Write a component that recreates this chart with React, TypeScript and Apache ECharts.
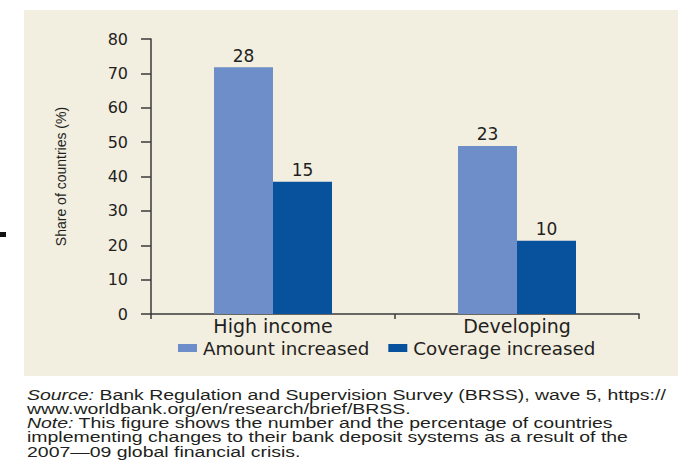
import React, { useEffect, useRef } from "react";
import * as echarts from "echarts";

const categories = ["High income", "Developing"];
const seriesNames = ["Amount increased", "Coverage increased"];
const amountPct = [71.8, 48.9];
const coveragePct = [38.5, 21.3];
const amountCount = [28, 23];
const coverageCount = [15, 10];
const yAxisTitle = "Share of countries (%)";
const footLines = [
  "{i|Source:} Bank Regulation and Supervision Survey (BRSS), wave 5, https://",
  "www.worldbank.org/en/research/brief/BRSS.",
  "{i|Note:} This figure shows the number and the percentage of countries",
  "implementing changes to their bank deposit systems as a result of the",
  "2007\u201409 global financial crisis.",
];

const TEXT = "#231f20";
const AXIS = "#3a3a3a";
const FONT = "'DejaVu Sans', Verdana, sans-serif";

export default function App() {
  const ref = useRef<HTMLDivElement>(null);
  useEffect(() => {
    if (!ref.current) return;
    const chart = echarts.init(ref.current, null, { renderer: "svg" });
    const footY = [395, 409.3, 423.5, 437.8, 452];
    chart.setOption({
      animation: false,
      backgroundColor: "#ffffff",
      graphic: [
        {
          type: "rect",
          z: -10,
          silent: true,
          shape: { x: 24, y: 10, width: 654, height: 366 },
          style: { fill: "#f2eee0" },
        },
        {
          type: "rect",
          silent: true,
          shape: { x: 0, y: 232, width: 6, height: 5 },
          style: { fill: "#111111" },
        },
        ...footLines.map((t, i) => ({
          type: "text",
          silent: true,
          x: 27,
          y: footY[i],
          scaleX: 1.39,
          style: {
            text: t,
            fontFamily: "'Liberation Sans', Arial, sans-serif",
            fontSize: 14,
            fill: TEXT,
            textVerticalAlign: "middle",
            rich: {
              i: {
                fontStyle: "italic",
                fontFamily: "'Liberation Sans', Arial, sans-serif",
                fontSize: 14,
                fill: TEXT,
              },
            },
          },
        })),
      ],
      grid: { left: 151, right: 57, top: 39, bottom: 150, containLabel: false },
      legend: {
        left: 178,
        top: 339,
        padding: 0,
        itemWidth: 19,
        itemHeight: 8,
        itemGap: 19,
        icon: "rect",
        data: seriesNames,
        textStyle: { fontFamily: FONT, fontSize: 18.3, color: TEXT, padding: [0, 0, 0, 1] },
      },
      xAxis: {
        type: "category",
        data: categories,
        boundaryGap: true,
        axisLine: { show: true, lineStyle: { color: AXIS, width: 1.5 } },
        axisTick: { show: true, length: 5, interval: 0, lineStyle: { color: AXIS, width: 1.5 } },
        axisLabel: { fontFamily: FONT, fontSize: 19, color: TEXT, margin: 2, interval: 0 },
        splitLine: { show: false },
      },
      yAxis: {
        type: "value",
        min: 0,
        max: 80,
        interval: 10,
        name: yAxisTitle,
        nameLocation: "middle",
        nameGap: 83,
        nameTextStyle: {
          fontFamily: "'Liberation Sans Narrow', 'Liberation Sans', sans-serif",
          fontSize: 14,
          color: TEXT,
        },
        axisLine: { show: true, lineStyle: { color: AXIS, width: 1.5 } },
        axisTick: { show: true, length: 10, inside: false, lineStyle: { color: AXIS, width: 1.5 } },
        axisLabel: { fontFamily: FONT, fontSize: 16, color: TEXT, margin: 23 },
        splitLine: { show: false },
      },
      series: [
        {
          name: seriesNames[0],
          type: "bar",
          data: amountPct,
          barWidth: 59,
          barGap: "0%",
          itemStyle: { color: "#6d8ec9" },
          label: {
            show: true,
            position: "top",
            distance: 3,
            fontFamily: FONT,
            fontSize: 17,
            color: TEXT,
            formatter: (p: any) => String(amountCount[p.dataIndex]),
          },
        },
        {
          name: seriesNames[1],
          type: "bar",
          data: coveragePct,
          barWidth: 59,
          barGap: "0%",
          itemStyle: { color: "#08519c" },
          label: {
            show: true,
            position: "top",
            distance: 3,
            fontFamily: FONT,
            fontSize: 17,
            color: TEXT,
            formatter: (p: any) => String(coverageCount[p.dataIndex]),
          },
        },
      ],
    });
    return () => chart.dispose();
  }, []);
  return (
    <div
      ref={ref}
      style={{ position: "fixed", left: 0, top: 0, width: 696, height: 464 }}
    />
  );
}
